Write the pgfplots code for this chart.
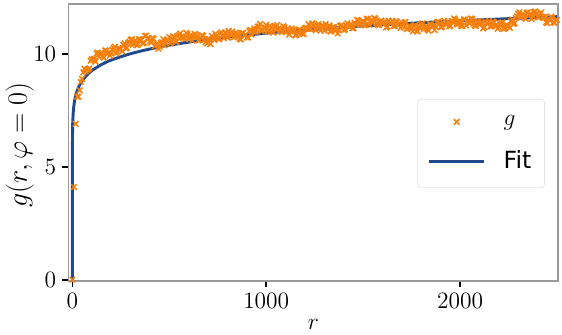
\documentclass[border=0pt]{standalone}
\usepackage{fontspec}
\usepackage{pgfplots}
\pgfplotsset{compat=1.18}
\newfontfamily\legsans{DejaVu Sans}
\definecolor{dataor}{RGB}{245,127,10}
\definecolor{fitblue}{RGB}{32,74,140}
\begin{document}
\begin{tikzpicture}
\begin{axis}[
  name=ax,
  scale only axis,
  width=300.5pt, height=170pt,
  xmin=-20, xmax=2505, ymin=-0.05, ymax=12.2,
  xtick={0,1000,2000}, ytick={0,5,10},
  /pgf/number format/1000 sep={},
  tick pos=left,
  tick align=outside,
  major tick length=4pt,
  major tick style={black, line width=1pt},
  axis line style={draw=black!40, line width=0.8pt},
  tick label style={font=\fontsize{14}{16}\selectfont},
  xlabel={$r$}, ylabel={$g(r,\varphi=0)$},
  every axis x label/.style={at={(rel axis cs:0.5,0)}, anchor=center, yshift=-27pt, font=\fontsize{15}{17}\selectfont},
  every axis y label/.style={at={(rel axis cs:0,0.49)}, xshift=-29.8pt, rotate=90, anchor=center, font=\fontsize{16}{18}\selectfont},
  legend style={at={(rel axis cs:0.973,0.657)}, anchor=north east, draw=black!12, rounded corners=2pt, fill=white, font=\fontsize{14.5}{17}\selectfont, row sep=10pt, column sep=9pt, inner xsep=6pt, inner ysep=8pt},
  legend cell align=left,
  legend image code/.code={\draw[mark repeat=2,mark phase=2,#1] plot coordinates {(0pt,0pt) (17pt,0pt) (34pt,0pt)};},
]
\addplot[only marks, mark=x, mark size=2.4pt, color=dataor, mark options={line width=0.9pt}] coordinates {
(0,0) (8,4.1) (17,6.9)
(25,8.10) (37.5,8.38) (50,8.89) (62.5,9.33) (75,9.29) (87.5,9.36) (100,9.75) (112.5,9.78) (125,10.01) (137.5,9.86)
(150,10.02) (162.5,9.82) (175,10.12) (187.5,10.05) (200,10.01) (212.5,10.25) (225,10.02) (237.5,10.24) (250,10.21)
(262.5,10.39) (275,10.24) (287.5,10.47) (300,10.61) (312.5,10.39) (325,10.60) (337.5,10.40) (350,10.62) (362.5,10.46)
(375,10.79) (387.5,10.68) (400,10.55) (412.5,10.70) (425,10.34) (437.5,10.44) (450,10.31) (462.5,10.51) (475,10.37)
(487.5,10.59) (500,10.74) (512.5,10.56) (525,10.73) (537.5,10.53) (550,10.83) (562.5,10.76) (575,10.71) (587.5,10.92)
(600,10.66) (612.5,10.83) (625,10.73) (637.5,10.83) (650,10.59) (662.5,10.71) (675,10.79) (687.5,10.52) (700,10.66)
(712.5,10.43) (725,10.68) (737.5,10.88) (750,10.67) (762.5,10.89) (775,10.82) (787.5,10.93) (800,10.71) (812.5,10.87)
(825,10.98) (837.5,10.76) (850,10.88) (862.5,10.65) (875,10.91) (887.5,10.80) (900,10.72) (912.5,11.00) (925,10.84)
(937.5,11.12) (950,11.08) (962.5,11.21) (975,11.00) (987.5,11.16) (1000,11.27) (1012.5,11.04) (1025,11.17) (1037.5,10.94)
(1050,11.21) (1062.5,11.11) (1075,11.03) (1087.5,11.22) (1100,10.95) (1112.5,11.11) (1125,10.99) (1137.5,11.06) (1150,10.81)
(1162.5,10.95) (1175,11.06) (1187.5,10.89) (1200,11.13) (1212.5,11.09) (1225,11.10) (1237.5,11.35) (1250,11.09) (1262.5,11.26)
(1275,11.16) (1287.5,11.25) (1300,11.02) (1312.5,11.16) (1325,11.25) (1337.5,11.01) (1350,11.17) (1362.5,11.08) (1375,11.04)
(1387.5,11.27) (1400,11.04) (1412.5,11.25) (1425,11.19) (1437.5,11.32) (1450,11.13) (1462.5,11.32) (1475,11.47) (1487.5,11.29)
(1500,11.45) (1512.5,11.26) (1525,11.54) (1537.5,11.44) (1550,11.36) (1562.5,11.55) (1575,11.28) (1587.5,11.44) (1600,11.34)
(1612.5,11.44) (1625,11.20) (1637.5,11.35) (1650,11.45) (1662.5,11.22) (1675,11.40) (1687.5,11.30) (1700,11.21) (1712.5,11.38)
(1725,11.09) (1737.5,11.24) (1750,11.13) (1762.5,11.23) (1775,11.00) (1787.5,11.17) (1800,11.30) (1812.5,11.09) (1825,11.23)
(1837.5,11.02) (1850,11.31) (1862.5,11.23) (1875,11.19) (1887.5,11.42) (1900,11.17) (1912.5,11.37) (1925,11.30) (1937.5,11.43)
(1950,11.22) (1962.5,11.39) (1975,11.51) (1987.5,11.30) (2000,11.44) (2012.5,11.22) (2025,11.51) (2037.5,11.42) (2050,11.35)
(2062.5,11.53) (2075,11.25) (2087.5,11.41) (2100,11.30) (2112.5,11.40) (2125,11.17) (2137.5,11.33) (2150,11.44) (2162.5,11.21)
(2175,11.38) (2187.5,11.27) (2200,11.18) (2212.5,11.36) (2225,11.09) (2237.5,11.27) (2250,11.23) (2262.5,11.44) (2275,11.32)
(2287.5,11.58) (2300,11.77) (2312.5,11.61) (2325,11.77) (2337.5,11.55) (2350,11.83) (2362.5,11.74) (2375,11.67) (2387.5,11.87)
(2400,11.61) (2412.5,11.77) (2425,11.63) (2437.5,11.64) (2450,11.35) (2462.5,11.48) (2475,11.59) (2487.5,11.37) (2500,11.50)
(31.25,8.10) (43.75,8.75) (56.25,9.18) (68.75,9.22) (81.25,9.31) (93.75,9.69) (106.25,9.74) (118.75,9.65) (131.25,10.05)
(143.75,10.01) (156.25,9.89) (168.75,10.15) (181.25,10.00) (193.75,9.92) (206.25,10.17) (218.75,10.31) (231.25,10.08)
(243.75,10.23) (256.25,10.11) (268.75,10.46) (281.25,10.26) (293.75,10.53) (306.25,10.64) (318.75,10.44) (331.25,10.38)
(343.75,10.65) (356.25,10.61) (368.75,10.48) (381.25,10.80) (393.75,10.68) (406.25,10.49) (418.75,10.65) (431.25,10.39)
(443.75,10.22) (456.25,10.47) (468.75,10.65) (481.25,10.46) (493.75,10.61) (506.25,10.46) (518.75,10.78) (531.25,10.54)
(543.75,10.78) (556.25,10.90) (568.75,10.71) (581.25,10.65) (593.75,10.87) (606.25,10.78) (618.75,10.58) (631.25,10.88)
(643.75,10.78) (656.25,10.61) (668.75,10.82) (681.25,10.61) (693.75,10.45) (706.25,10.65) (718.75,10.79) (731.25,10.61)
(743.75,10.78) (756.25,10.64) (768.75,10.95) (781.25,10.69) (793.75,10.91) (806.25,11.01) (818.75,10.80) (831.25,10.72)
(843.75,10.94) (856.25,10.84) (868.75,10.63) (881.25,10.92) (893.75,10.83) (906.25,10.72) (918.75,11.05) (931.25,10.98)
(943.75,10.95) (956.25,11.20) (968.75,11.32) (981.25,11.06) (993.75,11.16) (1006.25,10.97) (1018.75,11.24) (1031.25,10.97)
(1043.75,11.18) (1056.25,11.27) (1068.75,11.05) (1081.25,10.96) (1093.75,11.17) (1106.25,11.06) (1118.75,10.85) (1131.25,11.12)
(1143.75,11.01) (1156.25,10.84) (1168.75,11.07) (1181.25,10.93) (1193.75,10.87) (1206.25,11.15) (1218.75,11.31) (1231.25,11.11)
(1243.75,11.23) (1256.25,11.04) (1268.75,11.31) (1281.25,11.02) (1293.75,11.23) (1306.25,11.31) (1318.75,11.08) (1331.25,10.98)
(1343.75,11.18) (1356.25,11.08) (1368.75,10.90) (1381.25,11.23) (1393.75,11.18) (1406.25,11.08) (1418.75,11.35) (1431.25,11.20)
(1443.75,11.12) (1456.25,11.37) (1468.75,11.50) (1481.25,11.28) (1493.75,11.42) (1506.25,11.26) (1518.75,11.55) (1531.25,11.28)
(1543.75,11.49) (1556.25,11.58) (1568.75,11.36) (1581.25,11.26) (1593.75,11.47) (1606.25,11.37) (1618.75,11.16) (1631.25,11.46)
(1643.75,11.37) (1656.25,11.22) (1668.75,11.45) (1681.25,11.27) (1693.75,11.14) (1706.25,11.34) (1718.75,11.41) (1731.25,11.12)
(1743.75,11.19) (1756.25,10.99) (1768.75,11.26) (1781.25,10.99) (1793.75,11.22) (1806.25,11.34) (1818.75,11.14) (1831.25,11.07)
(1843.75,11.30) (1856.25,11.22) (1868.75,11.05) (1881.25,11.39) (1893.75,11.33) (1906.25,11.20) (1918.75,11.46) (1931.25,11.31)
(1943.75,11.22) (1956.25,11.45) (1968.75,11.56) (1981.25,11.31) (1993.75,11.42) (2006.25,11.23) (2018.75,11.52) (2031.25,11.25)
(2043.75,11.47) (2056.25,11.56) (2068.75,11.33) (2081.25,11.23) (2093.75,11.43) (2106.25,11.33) (2118.75,11.12) (2131.25,11.43)
(2143.75,11.35) (2156.25,11.21) (2168.75,11.43) (2181.25,11.24) (2193.75,11.11) (2206.25,11.31) (2218.75,11.39) (2231.25,11.13)
(2243.75,11.25) (2256.25,11.14) (2268.75,11.52) (2281.25,11.35) (2293.75,11.66) (2306.25,11.84) (2318.75,11.67) (2331.25,11.60)
(2343.75,11.82) (2356.25,11.73) (2368.75,11.54) (2381.25,11.85) (2393.75,11.77) (2406.25,11.62) (2418.75,11.83) (2431.25,11.58)
(2443.75,11.39) (2456.25,11.56) (2468.75,11.64) (2481.25,11.38) (2493.75,11.48)
};
\addlegendentry{$g$}
\addplot[color=fitblue, line width=1.8pt, smooth] coordinates {
(0,0) (0,1.78) (0.0001,3.44) (0.01,4.78) (0.1,5.64) (1,6.65) (2,6.99) (5,7.46) (10,7.84) (20,8.24) (40,8.66) (70,9.01)
(100,9.25) (150,9.52) (200,9.72) (300,10.00) (400,10.21) (500,10.38) (700,10.63) (1000,10.91) (1300,11.11)
(1600,11.28) (2000,11.46) (2500,11.64)
};
\addlegendentry{\legsans Fit}
\end{axis}
\pgfresetboundingbox
\path (ax.south west) ++(-42.05pt,-33.15pt) coordinate (bl);
\path (ax.north east) ++(2.46pt,2.46pt) coordinate (tr);
\path[use as bounding box] (bl) rectangle (tr);
\end{tikzpicture}
\end{document}
